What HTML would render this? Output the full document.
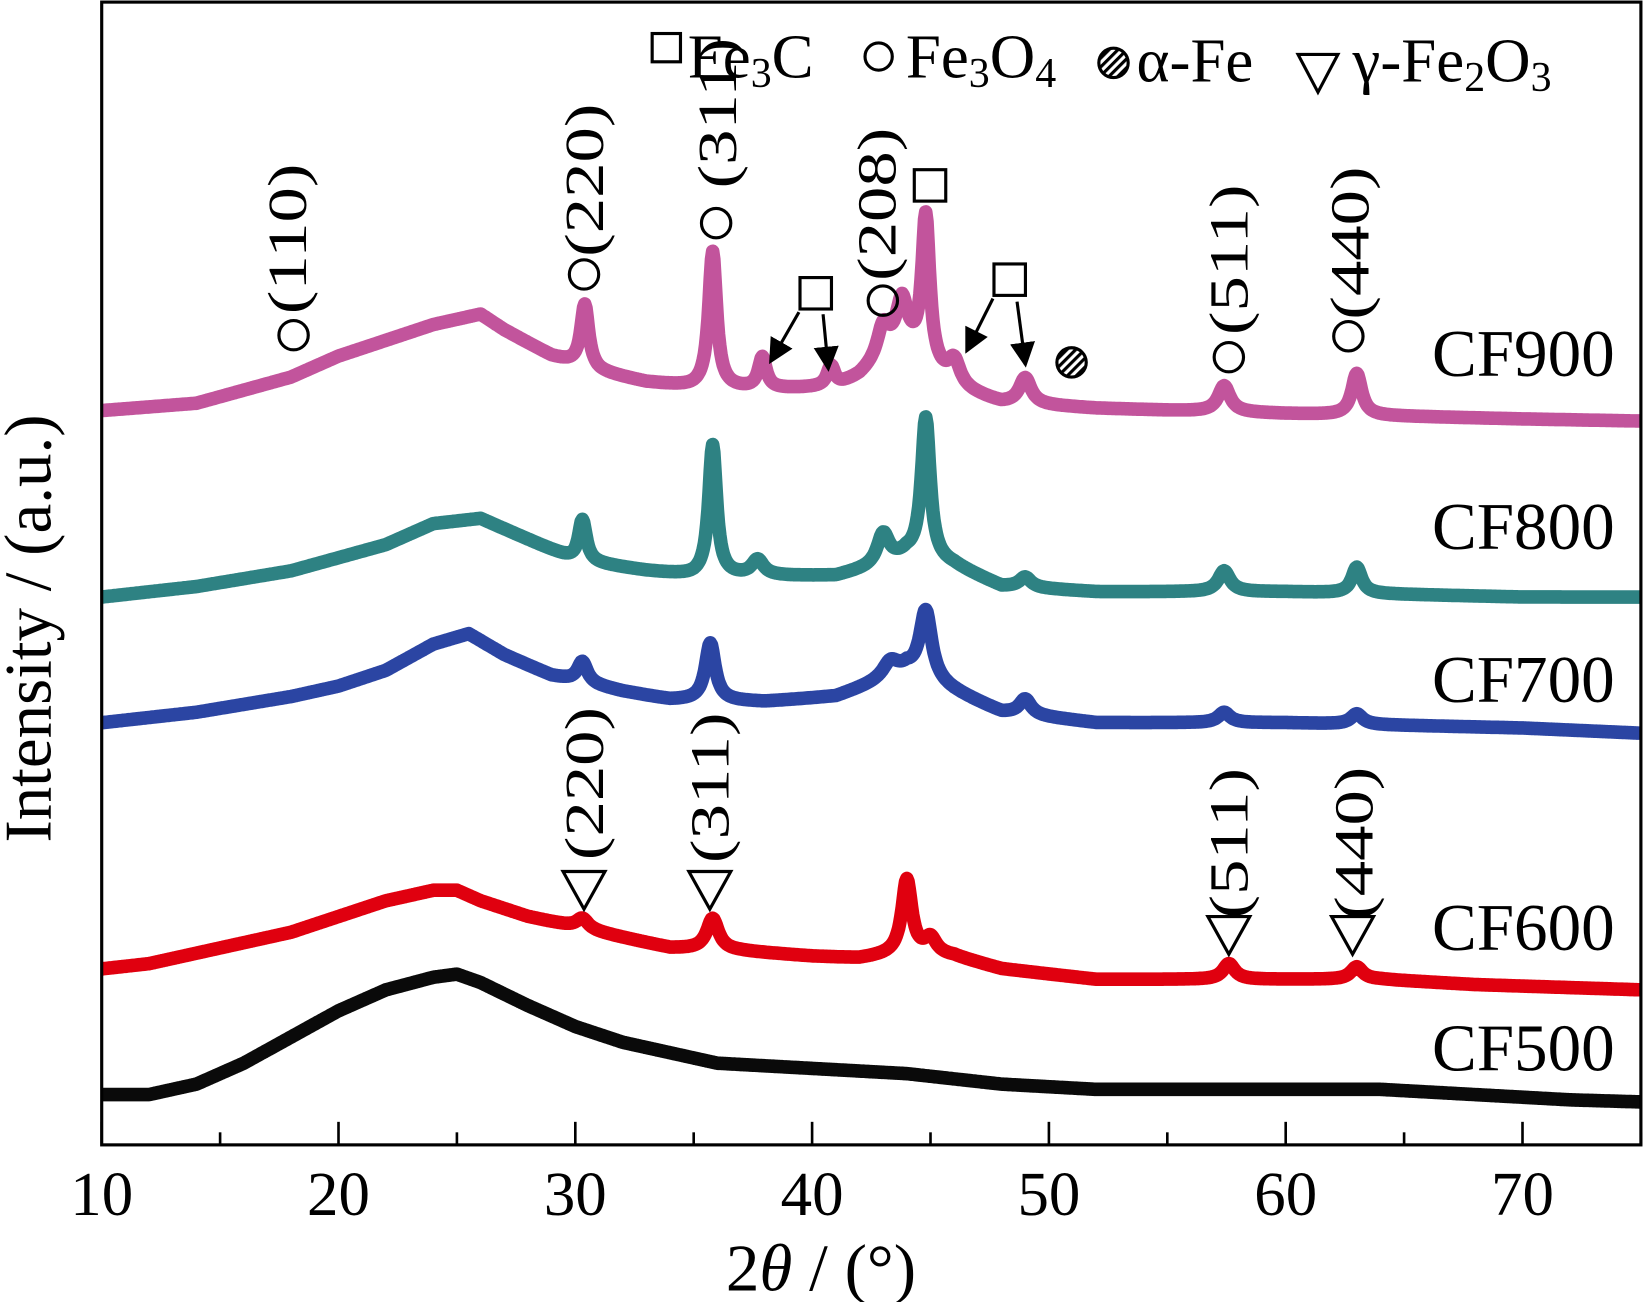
<!DOCTYPE html>
<html><head><meta charset="utf-8"><style>
html,body{margin:0;padding:0;background:#fff}
svg{display:block}
text{font-family:"Liberation Serif",serif;fill:#000}
</style></head><body>
<svg id="chart" width="1643" height="1302" viewBox="0 0 1567 1243" preserveAspectRatio="none" xmlns="http://www.w3.org/2000/svg">
<defs><pattern id="hatch" width="6" height="6" patternUnits="userSpaceOnUse" patternTransform="rotate(45)"><rect width="6" height="6" fill="#fff"/><rect width="3" height="6" fill="#000"/></pattern></defs>
<g id="series"></g>
<rect x="97" y="2" width="1468" height="1091" fill="none" stroke="#000" stroke-width="3"/>
<g id="axis"></g>
<text x="783" y="1232" font-size="64" text-anchor="middle">2<tspan font-style="italic">θ</tspan> / (°)</text>
<text transform="translate(48,600) rotate(-90)" font-size="64" text-anchor="middle">Intensity / (a.u.)</text>
<g id="labels" font-size="64"></g>
<g id="annot" font-size="50"></g>
<g font-size="60">
<rect x="622" y="32" width="27" height="27" fill="none" stroke="#000" stroke-width="3"/>
<text x="656" y="74">Fe<tspan font-size="40" dy="9">3</tspan><tspan dy="-9">C</tspan></text>
<circle cx="838" cy="54" r="13" fill="none" stroke="#000" stroke-width="3"/>
<text x="864" y="74">Fe<tspan font-size="40" dy="9">3</tspan><tspan dy="-9">O</tspan><tspan font-size="40" dy="9">4</tspan></text>
<circle cx="1062" cy="60" r="14" fill="url(#hatch)" stroke="#000" stroke-width="3"/>
<text x="1084" y="78">α-Fe</text>
<path d="M1238,52 L1276,52 L1257,88 Z" fill="none" stroke="#000" stroke-width="3"/>
<text x="1290" y="78">γ-Fe<tspan font-size="40" dy="9">2</tspan><tspan dy="-9">O</tspan><tspan font-size="40" dy="9">3</tspan></text>
</g>
</svg>
<script>
const NS='http://www.w3.org/2000/svg';
const xTicks=[10,20,30,40,50,60,70];
const xMinor=[15,25,35,45,55,65,75];
const sampleNames=['CF500','CF600','CF700','CF800','CF900'];
const colors=['#0a0a0a','#e0000f','#2b45a3','#2e8283','#c2549c'];
const base500=[[10,48],[12,48],[14,58],[16,78],[18,103],[20,128],[22,148],[24,160],[25,163],[26,155],[28,133],[30,113],[32,98],[34,88],[36,78],[40,73],[44,68],[48,58],[52,53],[60,53],[64,53],[68,48],[72,43],[75,41]];
const base600=[[10,168],[12,173],[14,183],[16,193],[18,203],[20,218],[22,233],[24,243],[25,243],[26,233],[28,218],[30,208],[32,198],[34,188],[37,185],[40,180],[42,178],[44,183],[46,180],[48,168],[52,158],[60,158],[64,158],[68,153],[75,148]];
const base700=[[10,403],[14,413],[18,428],[20,438],[22,453],[24,478],[25.5,488],[27,468],[29,448],[32,433],[34,425],[38,423],[41,428],[43,443],[44,453],[46,433],[48,413],[52,403],[60,403],[70,398],[75,393]];
const base800=[[10,523],[14,533],[18,548],[22,573],[24,593],[26,598],[28,578],[30,558],[33,548],[35,543],[38,543],[41,543],[43,553],[44,563],[46,553],[48,533],[52,528],[60,528],[70,523],[75,523]];
const base900=[[10,701],[14,708],[18,733],[20,753],[22,768],[24,783],[26,793],[27,778],[29,753],[31,738],[33,728],[35,723],[38,721],[41,723],[42,733],[43.8,763],[46,723],[48,708],[52,703],[60,698],[70,693],[75,691]];
const peaks500=[];
const peaks600=[[30.3,10,0.3],[35.8,30,0.3],[44.0,70,0.25],[45,15,0.3],[57.6,15,0.3],[63,12,0.3]];
const peaks700=[[30.3,20,0.25],[35.7,55,0.25],[43.3,15,0.4],[44.8,65,0.3],[49,15,0.3],[57.4,10,0.3],[63,10,0.3]];
const peaks800=[[30.3,40,0.2],[35.8,125,0.2],[37.7,15,0.3],[43,30,0.3],[44.8,135,0.22],[49,10,0.3],[57.4,20,0.3],[63,25,0.25]];
const peaks900=[[30.4,60,0.2],[35.8,130,0.2],[37.9,30,0.2],[40.8,20,0.2],[43,30,0.3],[43.8,40,0.3],[44.8,140,0.2],[46,25,0.3],[49,25,0.3],[57.4,25,0.3],[63,40,0.25]];
const bases=[base500,base600,base700,base800,base900];
const peaksAll=[peaks500,peaks600,peaks700,peaks800,peaks900];
const labelY=[1022,907,670,524,359];

function xs(t){return 97+(t-10)*(1565-97)/65;}
function ys(v){return 1093-v;}
function baseAt(b,t){
  for(let i=0;i<b.length-1;i++){if(t>=b[i][0]&&t<=b[i+1][0]){const f=(t-b[i][0])/(b[i+1][0]-b[i][0]);return b[i][1]+f*(b[i+1][1]-b[i][1]);}}
  return b[b.length-1][1];
}
const sg=document.getElementById('series');
for(let s=0;s<5;s++){
  let d='';
  for(let t=10;t<=75.001;t+=0.05){
    let v=baseAt(bases[s],t);
    for(const p of peaksAll[s]){v+=p[1]/(1+Math.pow((t-p[0])/p[2],2));}
    d+=(d?'L':'M')+xs(t).toFixed(1)+','+ys(v).toFixed(1);
  }
  const path=document.createElementNS(NS,'path');
  
  
  path.setAttribute('d',d);
  path.setAttribute('fill','none');
  path.setAttribute('stroke',colors[s]);
  path.setAttribute('stroke-width','13');
  path.setAttribute('stroke-linejoin','round');
  sg.appendChild(path);
  const lab=document.createElementNS(NS,'text');
  
  
  lab.setAttribute('x','1540');lab.setAttribute('y',labelY[s]);
  lab.setAttribute('text-anchor','end');
  lab.textContent=sampleNames[s];
  document.getElementById('labels').appendChild(lab);
}
const ax=document.getElementById('axis');
for(const t of xTicks){
  const l=document.createElementNS(NS,'line');
  
  
  l.setAttribute('x1',xs(t));l.setAttribute('x2',xs(t));l.setAttribute('y1',1093);l.setAttribute('y2',1071);
  l.setAttribute('stroke','#000');l.setAttribute('stroke-width','2.5');ax.appendChild(l);
  const tx=document.createElementNS(NS,'text');
  
  
  tx.setAttribute('x',xs(t));tx.setAttribute('y',1160);tx.setAttribute('font-size','60');tx.setAttribute('text-anchor','middle');
  tx.textContent=t;ax.appendChild(tx);
}
for(const t of xMinor){
  const l=document.createElementNS(NS,'line');
  
  
  l.setAttribute('x1',xs(t));l.setAttribute('x2',xs(t));l.setAttribute('y1',1093);l.setAttribute('y2',1081);
  l.setAttribute('stroke','#000');l.setAttribute('stroke-width','2.5');ax.appendChild(l);
}
const an=document.getElementById('annot');
function rtext(txt,x,y){
  const t=document.createElementNS(NS,'text');
  
  
  t.setAttribute('transform','translate('+x+','+y+') rotate(-90) scale(1.35,1.05)');
  t.setAttribute('text-anchor','middle');t.textContent=txt;an.appendChild(t);
}
function circ(x,y){const c=document.createElementNS(NS,'circle');
  
  
  c.setAttribute('cx',x);c.setAttribute('cy',y);c.setAttribute('r',14);c.setAttribute('fill','none');c.setAttribute('stroke','#000');c.setAttribute('stroke-width','3');an.appendChild(c);}
function sq(x,y){const c=document.createElementNS(NS,'rect');
  
  
  c.setAttribute('x',x-15);c.setAttribute('y',y-15);c.setAttribute('width',30);c.setAttribute('height',30);c.setAttribute('fill','none');c.setAttribute('stroke','#000');c.setAttribute('stroke-width','3');an.appendChild(c);}
function tri(x,y){const c=document.createElementNS(NS,'path');
  
  
  c.setAttribute('d','M'+(x-20)+','+(y-18)+' L'+(x+20)+','+(y-18)+' L'+x+','+(y+18)+' Z');c.setAttribute('fill','none');c.setAttribute('stroke','#000');c.setAttribute('stroke-width','3');an.appendChild(c);}
function arrow(x1,y1,x2,y2){const c=document.createElementNS(NS,'line');
  
  
  c.setAttribute('x1',x1);c.setAttribute('y1',y1);c.setAttribute('x2',x2);c.setAttribute('y2',y2);c.setAttribute('stroke','#000');c.setAttribute('stroke-width','3');c.setAttribute('marker-end','url(#ah)');an.appendChild(c);}
const defs=document.querySelector('defs');
defs.insertAdjacentHTML('beforeend','<marker id="ah" markerWidth="8" markerHeight="8" refX="7" refY="4" orient="auto"><path d="M0,0 L8,4 L0,8 Z" fill="#000"/></marker>');
rtext('(110)',292,228);circ(280,320);
rtext('(220)',575,172);circ(557,262);
rtext('(311)',702,108);circ(683,213);
rtext('(208)',854,195);circ(842,287);
sq(887,177);
sq(778,280);arrow(762,298,735,345);arrow(785,300,790,352);
sq(963,267);arrow(947,285,922,335);arrow(970,288,978,348);
rtext('(511)',1190,248);circ(1172,341);
rtext('(440)',1305,232);circ(1286,321);
const hf=document.createElementNS(NS,'circle');


hf.setAttribute('cx',1022);hf.setAttribute('cy',346);hf.setAttribute('r',14);hf.setAttribute('fill','url(#hatch)');hf.setAttribute('stroke','#000');hf.setAttribute('stroke-width','3');an.appendChild(hf);
rtext('(220)',575,748);tri(557,850);
rtext('(311)',695,752);tri(677,850);
rtext('(511)',1190,805);tri(1172,893);
rtext('(440)',1309,805);tri(1290,893);
</script>
</body></html>
